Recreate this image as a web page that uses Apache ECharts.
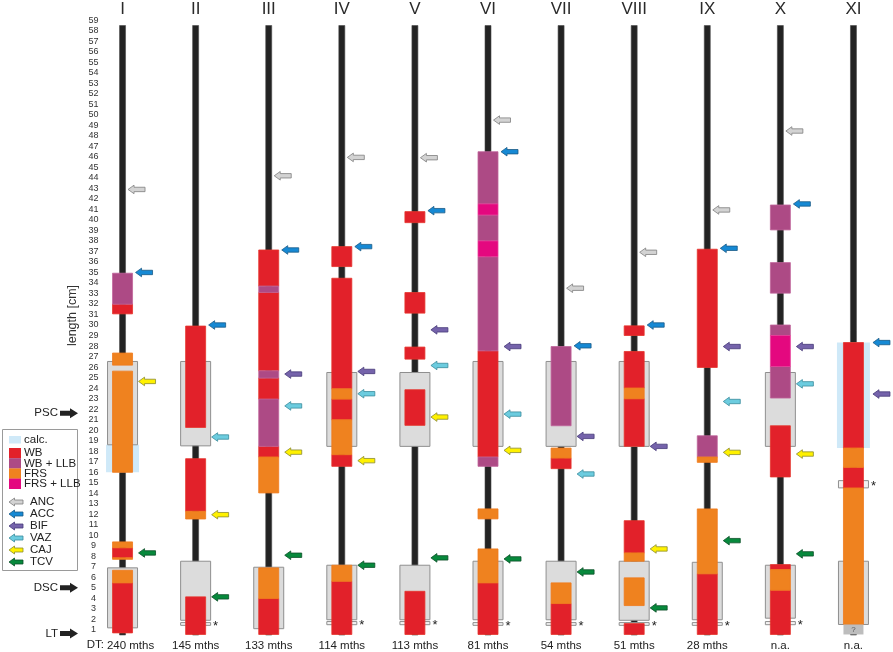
<!DOCTYPE html>
<html lang="en">
<head>
  <meta charset="UTF-8">
  <title>length [cm]</title>
  <script src="https://cdn.jsdelivr.net/npm/echarts@6/dist/echarts.min.js"></script>
  <style>
    html, body { margin: 0; padding: 0; background: #fff; }
    #chart { width: 893px; height: 652px; }
  </style>
</head>
<body>
<div id="chart"></div>
<script>
  // column names and the DT row under them
  var columns = ['I', 'II', 'III', 'IV', 'V', 'VI', 'VII', 'VIII', 'IX', 'X', 'XI'];
  var dtLabels = ['240 mths', '145 mths', '133 mths', '114 mths', '113 mths', '81 mths',
    '54 mths', '51 mths', '28 mths', 'n.a.', 'n.a.'];
  var lengthTicks = ['1', '2', '3', '4', '5', '6', '7', '8', '9', '10', '11', '12', '13', '14', '15',
    '16', '17', '18', '19', '20', '21', '22', '23', '24', '25', '26', '27', '28', '29', '30',
    '31', '32', '33', '34', '35', '36', '37', '38', '39', '40', '41', '42', '43', '44', '45',
    '46', '47', '48', '49', '50', '51', '52', '53', '54', '55', '56', '57', '58', '59'];

  // black core per column (top in cm)
  var spineTop = [58, 58, 58, 58, 58, 58, 58, 58, 58, 58, 58];

  // [column, from, to]
  var calcBoxes = [[0, 15.48, 18.1], [10, 17.79, 27.83]];
  var grayBoxes = [
    [0, 18.1, 26.03], [0, 0.68, 6.39],
    [1, 18.0, 26.03], [1, 1.4, 7.02],
    [2, 0.6, 6.45],
    [3, 17.95, 24.98], [3, 1.45, 6.64],
    [4, 17.95, 24.98], [4, 1.45, 6.64],
    [5, 17.95, 26.03], [5, 1.45, 7.02],
    [6, 17.95, 26.03], [6, 1.45, 7.02],
    [7, 17.95, 26.03], [7, 1.4, 7.02],
    [8, 1.45, 6.92],
    [9, 17.95, 24.98], [9, 1.6, 6.64],
    [10, 1.0, 7.02]
  ];
  var starBoxes = [[1, 0.92, 1.18], [3, 0.98, 1.28], [4, 0.98, 1.28], [5, 0.92, 1.18], [6, 0.92, 1.18],
    [7, 0.92, 1.18], [8, 0.92, 1.18], [9, 0.98, 1.28], [10, 14.0, 14.69]];
  var unknownPart = [[10, 0.05, 1.0]];

  var wb = [
    [0, 30.56, 31.48], [0, 7.35, 8.3], [0, 0.2, 4.96],
    [1, 19.75, 29.4], [1, 11.77, 16.78], [1, 0.05, 3.63],
    [2, 33.2, 36.64], [2, 25.14, 32.6], [2, 22.45, 24.45], [2, 16.94, 17.95], [2, 0.05, 3.47],
    [3, 35.06, 36.96], [3, 23.43, 33.95], [3, 20.48, 22.45], [3, 16.05, 17.16], [3, 0.05, 5.11],
    [4, 39.24, 40.29], [4, 30.63, 32.59], [4, 26.25, 27.4], [4, 19.95, 23.34], [4, 0.05, 4.16],
    [5, 16.94, 27.04], [5, 0.05, 4.96],
    [6, 15.83, 16.84], [6, 0.05, 2.99],
    [7, 28.5, 29.42], [7, 23.5, 26.98], [7, 17.95, 22.48], [7, 7.81, 10.88], [7, 0.05, 1.09],
    [8, 25.46, 36.71], [8, 0.05, 5.82],
    [9, 15.04, 19.91], [9, 6.23, 6.7], [9, 0.05, 4.26],
    [10, 17.79, 27.83], [10, 13.99, 15.95]
  ];
  var wbLlb = [
    [0, 31.48, 34.43],
    [2, 32.6, 33.2], [2, 24.45, 25.14], [2, 17.95, 22.45],
    [5, 41.02, 45.99], [5, 37.5, 39.97], [5, 27.04, 36.0], [5, 16.05, 16.94],
    [6, 19.91, 27.45],
    [8, 16.94, 18.96],
    [9, 38.55, 40.92], [9, 32.53, 35.44], [9, 28.5, 29.5], [9, 22.55, 25.55]
  ];
  var frs = [
    [0, 25.68, 26.83], [0, 15.48, 25.11], [0, 8.3, 8.86], [0, 7.2, 7.35], [0, 4.96, 6.16],
    [1, 11.04, 11.77],
    [2, 13.52, 16.94], [2, 3.47, 6.39],
    [3, 22.45, 23.43], [3, 17.16, 20.48], [3, 5.11, 6.64],
    [5, 11.05, 12.0], [5, 4.96, 8.19],
    [6, 16.84, 17.79], [6, 2.99, 4.96],
    [7, 22.48, 23.5], [7, 7.02, 7.81], [7, 2.8, 5.44],
    [8, 16.43, 16.94], [8, 5.82, 12.0],
    [9, 4.26, 6.23],
    [10, 15.95, 17.79], [10, 1.0, 13.99]
  ];
  var frsLlb = [[5, 39.97, 41.02], [5, 36.0, 37.5], [9, 25.55, 28.5]];

  // arrows: [column, position]
  var anc = [[0, 42.4], [2, 43.7], [3, 45.45], [4, 45.42], [5, 49.0], [6, 33.0], [7, 36.42], [8, 40.45], [9, 47.96]];
  var acc = [[0, 34.5], [1, 29.5], [2, 36.64], [3, 36.96], [4, 40.38], [5, 45.99], [6, 27.52], [7, 29.5],
    [8, 36.8], [9, 41.02], [10, 27.83]];
  var bif = [[2, 24.83], [3, 25.08], [4, 29.04], [5, 27.45], [6, 18.9], [7, 17.95], [8, 27.45], [9, 27.45], [10, 22.93]];
  var vaz = [[1, 18.84], [2, 21.8], [3, 22.96], [4, 25.65], [5, 21.02], [6, 15.32], [8, 22.22], [9, 23.9]];
  var caj = [[0, 24.13], [1, 11.45], [2, 17.4], [3, 16.59], [4, 20.74], [5, 17.57], [7, 8.19], [8, 17.38], [9, 17.22]];
  var tcv = [[0, 7.81], [1, 3.63], [2, 7.59], [3, 6.64], [4, 7.34], [5, 7.24], [6, 6.0], [7, 2.58], [8, 8.98], [9, 7.72]];

  // labels on the left side
  var sideMarks = [['PSC', 21.1], ['DSC', 4.49], ['LT', 0.14]];

  var FONT = 'Liberation Sans, Arial, sans-serif';

  var myChart = echarts.init(document.getElementById('chart'), null, { renderer: 'canvas' });

  function boxItem(width, style) {
    return function (params, api) {
      var top = api.coord([api.value(0), api.value(2)]);
      var bot = api.coord([api.value(0), api.value(1)]);
      return {
        type: 'rect',
        shape: { x: top[0] - width / 2, y: top[1], width: width, height: bot[1] - top[1] },
        style: style
      };
    };
  }

  function inCalc(col, v) {
    for (var i = 0; i < calcBoxes.length; i++) {
      var b = calcBoxes[i];
      if (b[0] === col && v >= b[1] - 0.3 && v <= b[2] + 0.3) return true;
    }
    return false;
  }

  function arrowPoints(x, y, len, head, hh, sh) {
    return [[x, y], [x + head, y - hh], [x + head, y - sh], [x + len, y - sh],
      [x + len, y + sh], [x + head, y + sh], [x + head, y + hh]];
  }

  function arrowItem(offset, style) {
    return function (params, api) {
      var col = api.value(0), v = api.value(1);
      var p = api.coord([col, v]);
      var x = p[0] + (inCalc(col, v) ? 19.5 : offset);
      return {
        type: 'polygon',
        shape: { points: arrowPoints(x, p[1], 17, 6, 4.3, 2.2) },
        style: style
      };
    };
  }

  var arrowTypes = [
    { name: 'ANC', data: anc, off: 5.5, fill: '#d3d3d3', stroke: '#7f7f7f' },
    { name: 'ACC', data: acc, off: 13, fill: '#1689d4', stroke: '#1b5a86' },
    { name: 'BIF', data: bif, off: 16, fill: '#7563ab', stroke: '#463a78' },
    { name: 'VAZ', data: vaz, off: 16, fill: '#6cccdf', stroke: '#3a8c9c' },
    { name: 'CAJ', data: caj, off: 16, fill: '#fff100', stroke: '#8a8a30' },
    { name: 'TCV', data: tcv, off: 16, fill: '#07893c', stroke: '#0b4f27' }
  ];
  var segTypes = [
    { name: 'WB', data: wb, fill: '#e2212a', stroke: '#e6352c' },
    { name: 'WB + LLB', data: wbLlb, fill: '#ad4a85', stroke: '#c0649a' },
    { name: 'FRS', data: frs, fill: '#ef821f', stroke: '#f07a1c' },
    { name: 'FRS + LLB', data: frsLlb, fill: '#e4087f', stroke: '#e8409a' }
  ];

  var series = [];

  series.push({
    type: 'custom', name: 'spine', xAxisIndex: 0, yAxisIndex: 1,
    data: spineTop.map(function (t, i) { return [i, 0, t]; }),
    renderItem: boxItem(6, { fill: '#232323', stroke: '#4a4a4a', lineWidth: 0.6 }),
    silent: true
  });
  series.push({
    type: 'custom', name: 'calc.', xAxisIndex: 0, yAxisIndex: 1,
    data: calcBoxes,
    renderItem: boxItem(33, { fill: '#cfe9f8' })
  });
  series.push({
    type: 'custom', name: 'box', xAxisIndex: 0, yAxisIndex: 1,
    data: grayBoxes,
    renderItem: boxItem(30, { fill: '#dcdcdc', stroke: '#8f8f8f', lineWidth: 1 }),
    silent: true
  });
  series.push({
    type: 'custom', name: 'star', xAxisIndex: 0, yAxisIndex: 1,
    data: starBoxes,
    renderItem: function (params, api) {
      var top = api.coord([api.value(0), api.value(2)]);
      var bot = api.coord([api.value(0), api.value(1)]);
      return {
        type: 'group',
        children: [{
          type: 'rect',
          shape: { x: top[0] - 15, y: top[1], width: 30, height: bot[1] - top[1] },
          style: { fill: '#f2f2f2', stroke: '#8f8f8f', lineWidth: 1 }
        }, {
          type: 'text',
          style: { x: top[0] + 20, y: (top[1] + bot[1]) / 2 + 2, text: '*', fill: '#222',
            font: '13px ' + FONT, textAlign: 'center', textVerticalAlign: 'middle' }
        }]
      };
    },
    silent: true
  });
  segTypes.forEach(function (s) {
    series.push({
      type: 'custom', name: s.name, xAxisIndex: 0, yAxisIndex: 1,
      data: s.data,
      renderItem: boxItem(20, { fill: s.fill, stroke: s.stroke, lineWidth: 0.8 })
    });
  });
  series.push({
    type: 'custom', name: 'unknown', xAxisIndex: 0, yAxisIndex: 1,
    data: unknownPart,
    renderItem: function (params, api) {
      var top = api.coord([api.value(0), api.value(2)]);
      var bot = api.coord([api.value(0), api.value(1)]);
      return {
        type: 'group',
        children: [{
          type: 'rect',
          shape: { x: top[0] - 10, y: top[1], width: 20, height: bot[1] - top[1] },
          style: { fill: '#bdbdbd' }
        }, {
          type: 'text',
          style: { x: top[0], y: (top[1] + bot[1]) / 2, text: '?', fill: '#555',
            font: '8px ' + FONT, textAlign: 'center', textVerticalAlign: 'middle' }
        }]
      };
    },
    silent: true
  });
  arrowTypes.forEach(function (a) {
    series.push({
      type: 'custom', name: a.name, xAxisIndex: 0, yAxisIndex: 1,
      data: a.data,
      renderItem: arrowItem(a.off, { fill: a.fill, stroke: a.stroke, lineWidth: 0.8 })
    });
  });
  series.push({
    type: 'custom', name: 'side', xAxisIndex: 0, yAxisIndex: 1,
    data: sideMarks.map(function (m) { return [0, m[1]]; }),
    renderItem: function (params, api) {
      var y = api.coord([0, api.value(1)])[1];
      var name = sideMarks[params.dataIndex][0];
      return {
        type: 'group',
        children: [{
          type: 'text',
          style: { x: 58, y: y, text: name, fill: '#222', font: '11.5px ' + FONT,
            textAlign: 'right', textVerticalAlign: 'middle' }
        }, {
          type: 'polygon',
          shape: { points: [[60, y - 2.5], [70, y - 2.5], [70, y - 5], [78, y], [70, y + 5], [70, y + 2.5], [60, y + 2.5]] },
          style: { fill: '#222' }
        }]
      };
    },
    silent: true
  });

  // legend box (mixed swatches and arrows), drawn as graphic
  var legendEls = [{
    type: 'rect', x: 2.5, y: 429.5, z: 5,
    shape: { width: 75, height: 141 },
    style: { fill: '#fff', stroke: '#9a9a9a', lineWidth: 1 }
  }];
  function legendText(x, y, t) {
    legendEls.push({
      type: 'text', x: x, y: y, z: 6,
      style: { text: t, fill: '#222', font: '11.5px ' + FONT, textVerticalAlign: 'middle' }
    });
  }
  legendEls.push({ type: 'rect', x: 9, y: 436, z: 6, shape: { width: 12, height: 7.5 }, style: { fill: '#cfe9f8' } });
  legendText(24, 440, 'calc.');
  segTypes.forEach(function (s, i) {
    legendEls.push({ type: 'rect', x: 9, y: 448 + i * 10.2, z: 6,
      shape: { width: 12, height: 10.4 }, style: { fill: s.fill } });
    legendText(24, 453 + i * 10.4, s.name);
  });
  arrowTypes.forEach(function (a, i) {
    var y = 502 + i * 12;
    legendEls.push({ type: 'polygon', z: 6,
      shape: { points: arrowPoints(9, y, 14, 5.5, 4, 2) },
      style: { fill: a.fill, stroke: a.stroke, lineWidth: 0.8 } });
    legendText(30, y, a.name);
  });

  var option = {
    animation: false,
    textStyle: { fontFamily: FONT },
    grid: { left: 86, right: 3, top: 15, bottom: 17 },
    xAxis: [
      {
        type: 'category', position: 'top', data: columns,
        axisLine: { show: false }, axisTick: { show: false },
        axisLabel: { fontSize: 17, color: '#2a2a2a', margin: -3, interval: 0 }
      },
      {
        type: 'category', position: 'bottom',
        data: dtLabels.map(function (d, i) {
          return i === 0 ? { value: d, textStyle: { padding: [0, 0, 0, 16] } } : d;
        }),
        axisLine: { show: false }, axisTick: { show: false },
        axisLabel: { fontSize: 11.5, color: '#222', margin: 5, interval: 0 }
      }
    ],
    yAxis: [
      {
        type: 'category', data: lengthTicks, position: 'left', offset: -7.5,
        axisLine: { show: false }, axisTick: { show: false }, splitLine: { show: false },
        axisLabel: { fontSize: 9, color: '#333', margin: 0, align: 'center', interval: 0 }
      },
      { type: 'value', min: 0, max: 59, show: false, splitLine: { show: false } }
    ],
    graphic: legendEls.concat([
      {
        type: 'text', x: 72.5, y: 315.5, rotation: Math.PI / 2,
        style: { text: 'length [cm]', fill: '#333', font: '12.5px ' + FONT,
          textAlign: 'center', textVerticalAlign: 'middle' }
      },
      {
        type: 'text', x: 104, y: 645,
        style: { text: 'DT:', fill: '#222', font: '11.5px ' + FONT,
          textAlign: 'right', textVerticalAlign: 'middle' }
      }
    ]),
    series: series
  };

  myChart.setOption(option);
  window.addEventListener('resize', myChart.resize);
</script>
</body>
</html>
